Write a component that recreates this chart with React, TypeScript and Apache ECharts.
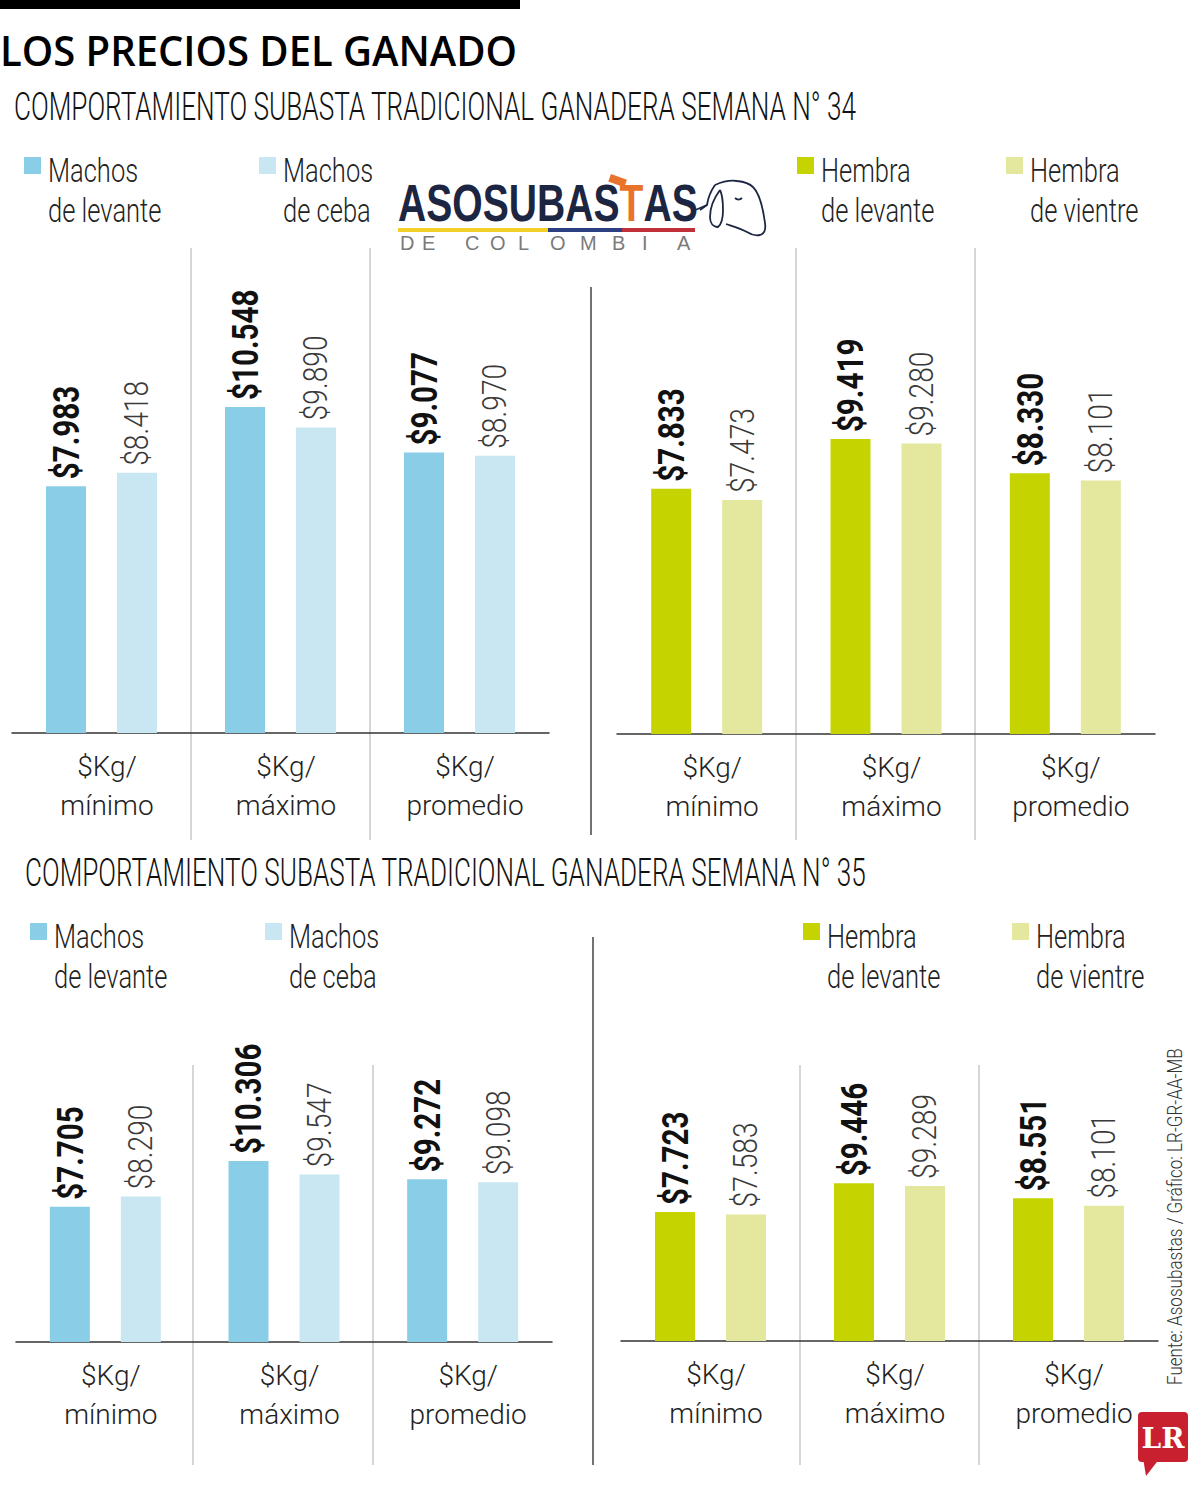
import React, { useEffect, useRef } from 'react';
import * as echarts from 'echarts';

// datos
const categories = ['$Kg/\nmínimo', '$Kg/\nmáximo', '$Kg/\npromedio'];
const s34MachosLevante = [7983, 10548, 9077];
const s34MachosCeba = [8418, 9890, 8970];
const s34HembraLevante = [7833, 9419, 8330];
const s34HembraVientre = [7473, 9280, 8101];
const s35MachosLevante = [7705, 10306, 9272];
const s35MachosCeba = [8290, 9547, 9098];
const s35HembraLevante = [7723, 9446, 8551];
const s35HembraVientre = [7583, 9289, 8101];
const legendMachos = ['Machos\nde levante', 'Machos\nde ceba'];
const legendHembras = ['Hembra\nde levante', 'Hembra\nde vientre'];
const titulo = 'LOS PRECIOS DEL GANADO';
const subtitulo34 = 'COMPORTAMIENTO SUBASTA TRADICIONAL GANADERA SEMANA N° 34';
const subtitulo35 = 'COMPORTAMIENTO SUBASTA TRADICIONAL GANADERA SEMANA N° 35';
const fuente = 'Fuente: Asosubastas / Gráfico: LR-GR-AA-MB';

const FONT = "Roboto, 'DejaVu Sans', sans-serif";
const C_ML = '#89cee6';
const C_MC = '#c9e7f2';
const C_HL = '#c5d400';
const C_HV = '#e4e89e';
const NAVY = '#1c2541';

const SHEEP =
  'M15 7 C24 3 30 2 37 3 C46 4 50 6 53 9 C60 16 63 30 65 45 C66 52 64 56 60 57 C55 58 50 56 47 54 ' +
  'M20 12 C14 20 10 30 10 39 C10 45 13 49 18 49 C22 46 23 40 23 32 C23 24 22 16 20 12 ' +
  'M15 7 C10 14 8 20 7 27 L0 32 M35 20 C37 22 40 22 42 20 M47 54 C40 50 32 48 26 46';
echarts.graphic.registerShape('sheep', echarts.graphic.extendPath(SHEEP, {}));

const fmt = (v: number) => '$' + Math.floor(v / 1000) + '.' + String(v % 1000).padStart(3, '0');

const fitScale = (text: string, font: string, width: number) => {
  const ctx = document.createElement('canvas').getContext('2d')!;
  ctx.font = font;
  return width / ctx.measureText(text).width;
};

const barSeries = (idx: number, data: number[], color: string) => ({
  type: 'bar',
  xAxisIndex: idx,
  yAxisIndex: idx,
  data,
  barWidth: 40,
  barGap: '77.5%',
  itemStyle: { color }
});

// etiquetas verticales angostas encima de cada barra
const labelSeries = (idx: number, data: number[], bold: boolean, side: number) => ({
  type: 'custom',
  xAxisIndex: idx,
  yAxisIndex: idx,
  data: data.map((v, i) => [i, v]),
  encode: { x: 0, y: 1 },
  silent: true,
  renderItem: (_params: any, api: any) => {
    const pt = api.coord([api.value(0), api.value(1)]);
    return {
      type: 'text',
      x: pt[0] + side * 35.5,
      y: pt[1] - 7,
      rotation: Math.PI / 2,
      scaleX: bold ? 0.8 : 0.83,
      style: {
        text: fmt(api.value(1)),
        fontFamily: FONT,
        fontSize: bold ? 37 : 34,
        fontWeight: bold ? 'bold' : 300,
        fill: bold ? '#111' : '#3a3a3a',
        align: 'left',
        verticalAlign: 'middle'
      }
    };
  }
});

const line = (x1: number, y1: number, x2: number, y2: number, stroke = '#c8c8c8', lineWidth = 1.5) => ({
  type: 'line',
  shape: { x1, y1, x2, y2 },
  style: { stroke, lineWidth }
});

const fitText = (text: string, x: number, y: number, font: string, width: number, fill = '#111') => ({
  type: 'text',
  x,
  y,
  scaleX: fitScale(text, font, width),
  style: { text, font, fill, align: 'left', verticalAlign: 'middle' }
});

const legendItem = (x: number, y: number, name: string, color: string) => [
  { type: 'rect', x, y: y + 7, shape: { x: 0, y: 0, width: 17, height: 17 }, style: { fill: color } },
  {
    type: 'text',
    x: x + 24,
    y,
    scaleX: 0.75,
    style: {
      text: name,
      fontFamily: FONT,
      fontSize: 34,
      fontWeight: 300,
      lineHeight: 40,
      fill: '#222',
      align: 'left',
      verticalAlign: 'top'
    }
  }
];

const App: React.FC = () => {
  const chartRef = useRef<HTMLDivElement>(null);

  useEffect(() => {
    document.body.style.margin = '0';
    if (!chartRef.current) return;
    const chart = echarts.init(chartRef.current, undefined, { renderer: 'svg' });

    const grids = [
      { left: 12, width: 537, top: 250, height: 483, max: 15630 },
      { left: 617, width: 538, top: 250, height: 484, max: 15460 },
      { left: 16, width: 536, top: 1065, height: 277, max: 15780 },
      { left: 621, width: 537, top: 1065, height: 276, max: 16530 }
    ];

    const logoFont = "bold 52px 'Liberation Sans', Arial, sans-serif";
    const subFont = `300 38px ${FONT}`;
    const colombia: [string, number][] = [
      ['D', 400], ['E', 422], ['C', 465], ['O', 490], ['L', 518],
      ['O', 550], ['M', 580], ['B', 612], ['I', 642], ['A', 677]
    ];

    const graphic: any[] = [
      { type: 'rect', x: 0, y: 0, shape: { x: 0, y: 0, width: 520, height: 9 }, style: { fill: '#000' } },
      fitText(titulo, 0, 50, "600 42px 'Open Sans', sans-serif", 517, '#000'),
      fitText(subtitulo34, 14, 107, subFont, 843),
      fitText(subtitulo35, 25, 873, subFont, 842),
      ...legendItem(24, 150, legendMachos[0], C_ML),
      ...legendItem(259, 150, legendMachos[1], C_MC),
      ...legendItem(797, 150, legendHembras[0], C_HL),
      ...legendItem(1006, 150, legendHembras[1], C_HV),
      ...legendItem(30, 916, legendMachos[0], C_ML),
      ...legendItem(265, 916, legendMachos[1], C_MC),
      ...legendItem(803, 916, legendHembras[0], C_HL),
      ...legendItem(1012, 916, legendHembras[1], C_HV),
      // divisores
      line(191, 248, 191, 840),
      line(370, 248, 370, 840),
      line(796, 248, 796, 840),
      line(975, 248, 975, 840),
      line(591, 287, 591, 835, '#444', 1.5),
      line(193, 1065, 193, 1465),
      line(373, 1065, 373, 1465),
      line(800, 1065, 800, 1465),
      line(979, 1065, 979, 1465),
      line(593, 937, 593, 1465, '#444', 1.5),
      // logo Asosubastas
      {
        type: 'text',
        x: 398,
        y: 203,
        scaleX: fitScale('ASOSUBASTAS', logoFont, 297),
        style: {
          text: '{a|ASOSUBAS}{b|T}{a|AS}',
          font: logoFont,
          align: 'left',
          verticalAlign: 'middle',
          rich: {
            a: { fill: NAVY, font: logoFont },
            b: { fill: '#e8742c', font: logoFont }
          }
        }
      },
      { type: 'rect', x: 611, y: 174, rotation: -0.35, shape: { x: 0, y: 0, width: 17, height: 8 }, style: { fill: '#e8742c' } },
      { type: 'rect', x: 398, y: 228, shape: { x: 0, y: 0, width: 150, height: 4 }, style: { fill: '#f2d027' } },
      { type: 'rect', x: 548, y: 228, shape: { x: 0, y: 0, width: 74, height: 4 }, style: { fill: '#2b3f80' } },
      { type: 'rect', x: 622, y: 228, shape: { x: 0, y: 0, width: 73, height: 4 }, style: { fill: '#c0303a' } },
      ...colombia.map(([ch, x]) => ({
        type: 'text',
        x,
        y: 243,
        style: { text: ch, font: "20px 'Liberation Sans', Arial, sans-serif", fill: '#7a7a7a', align: 'left', verticalAlign: 'middle' }
      })),
      line(693, 211, 707, 205, NAVY, 1.6),
      { type: 'sheep', x: 700, y: 178, style: { fill: 'none', stroke: NAVY, lineWidth: 1.8 } },
      // fuente
      {
        type: 'text',
        x: 1176,
        y: 1385,
        rotation: Math.PI / 2,
        scaleX: fitScale(fuente, `300 20px ${FONT}`, 337),
        style: { text: fuente, font: `300 20px ${FONT}`, fill: '#333', align: 'left', verticalAlign: 'middle' }
      },
      // logo LR
      { type: 'rect', x: 1138, y: 1412, shape: { x: 0, y: 0, width: 50, height: 50, r: 4 }, style: { fill: '#c8202f' } },
      { type: 'polygon', shape: { points: [[1143, 1458], [1160, 1458], [1146, 1476]] }, style: { fill: '#c8202f' } },
      {
        type: 'text',
        x: 1163,
        y: 1438,
        style: { text: 'LR', font: "bold 28px 'DejaVu Serif', 'Liberation Serif', serif", fill: '#fff', align: 'center', verticalAlign: 'middle' }
      }
    ];

    chart.setOption({
      animation: false,
      backgroundColor: '#fff',
      grid: grids.map(g => ({ left: g.left, width: g.width, top: g.top, height: g.height })),
      xAxis: grids.map((_, i) => ({
        type: 'category',
        gridIndex: i,
        data: categories,
        axisLine: { lineStyle: { color: '#333', width: 1.5 } },
        axisTick: { show: false },
        axisLabel: {
          interval: 0,
          margin: 14,
          fontFamily: FONT,
          fontWeight: 300,
          fontSize: 28,
          lineHeight: 39,
          color: '#222',
          padding: [0, 0, 0, 11]
        }
      })),
      yAxis: grids.map((g, i) => ({
        type: 'value',
        gridIndex: i,
        min: 0,
        max: g.max,
        show: false,
        splitLine: { show: false }
      })),
      series: [
        barSeries(0, s34MachosLevante, C_ML),
        barSeries(0, s34MachosCeba, C_MC),
        barSeries(1, s34HembraLevante, C_HL),
        barSeries(1, s34HembraVientre, C_HV),
        barSeries(2, s35MachosLevante, C_ML),
        barSeries(2, s35MachosCeba, C_MC),
        barSeries(3, s35HembraLevante, C_HL),
        barSeries(3, s35HembraVientre, C_HV),
        labelSeries(0, s34MachosLevante, true, -1),
        labelSeries(0, s34MachosCeba, false, 1),
        labelSeries(1, s34HembraLevante, true, -1),
        labelSeries(1, s34HembraVientre, false, 1),
        labelSeries(2, s35MachosLevante, true, -1),
        labelSeries(2, s35MachosCeba, false, 1),
        labelSeries(3, s35HembraLevante, true, -1),
        labelSeries(3, s35HembraVientre, false, 1)
      ],
      graphic
    });

    return () => {
      chart.dispose();
    };
  }, []);

  return <div ref={chartRef} style={{ width: 1200, height: 1488 }} />;
};

export default App;
